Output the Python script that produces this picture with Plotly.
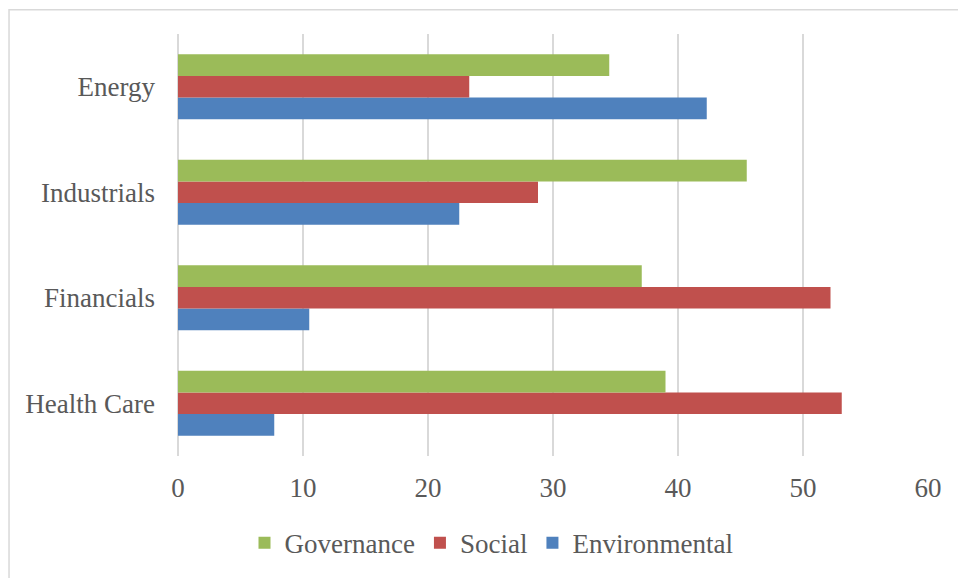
import plotly.graph_objects as go

# Sectors, listed bottom to top
sectors = ["Health Care", "Financials", "Industrials", "Energy"]

environmental = [7.7, 10.5, 22.5, 42.3]
social = [53.1, 52.2, 28.8, 23.3]
governance = [39.0, 37.1, 45.5, 34.5]

x_ticks = [0, 10, 20, 30, 40, 50, 60]

FONT = "Liberation Serif, Times New Roman, serif"
SIZE = 27
TEXT = "#595959"
GRID = "#d9d9d9"

fig = go.Figure()
for name, vals, color in [
    ("Environmental", environmental, "#4F81BD"),
    ("Social", social, "#C0504D"),
    ("Governance", governance, "#9BBB59"),
]:
    fig.add_trace(go.Bar(
        y=sectors, x=vals, name=name, orientation="h",
        marker=dict(color=color, line=dict(width=0)),
    ))

fig.update_layout(
    width=958, height=578,
    margin=dict(l=178, r=30, t=34, b=121),
    paper_bgcolor="white", plot_bgcolor="white",
    barmode="group", bargap=0.385, bargroupgap=0,
    font=dict(family=FONT, size=SIZE, color=TEXT),
    showlegend=True,
    legend=dict(
        orientation="h", traceorder="reversed",
        x=0.418, xanchor="center", y=-0.2035, yanchor="middle",
        font=dict(family=FONT, size=SIZE, color=TEXT),
        itemwidth=30, bgcolor="rgba(0,0,0,0)",
    ),
    xaxis=dict(
        range=[0, 60], tickvals=x_ticks, showgrid=True, gridcolor=GRID,
        gridwidth=1.5, zeroline=True, zerolinecolor=GRID, zerolinewidth=1.5,
        showline=False, ticks="", ticklabelstandoff=13,
        tickfont=dict(family=FONT, size=SIZE, color=TEXT), fixedrange=True,
    ),
    yaxis=dict(
        range=[-0.5, 3.5], showgrid=False, zeroline=False, showline=False,
        ticks="", ticklabelstandoff=22,
        tickfont=dict(family=FONT, size=SIZE, color=TEXT), fixedrange=True,
    ),
    shapes=[dict(
        type="rect", xref="paper", yref="paper",
        x0=-0.2253, x1=1.2, y0=-0.4, y1=1.0577,
        line=dict(color=GRID, width=1.5), fillcolor="rgba(0,0,0,0)", layer="below",
    )],
)

fig.write_html("out.html")
